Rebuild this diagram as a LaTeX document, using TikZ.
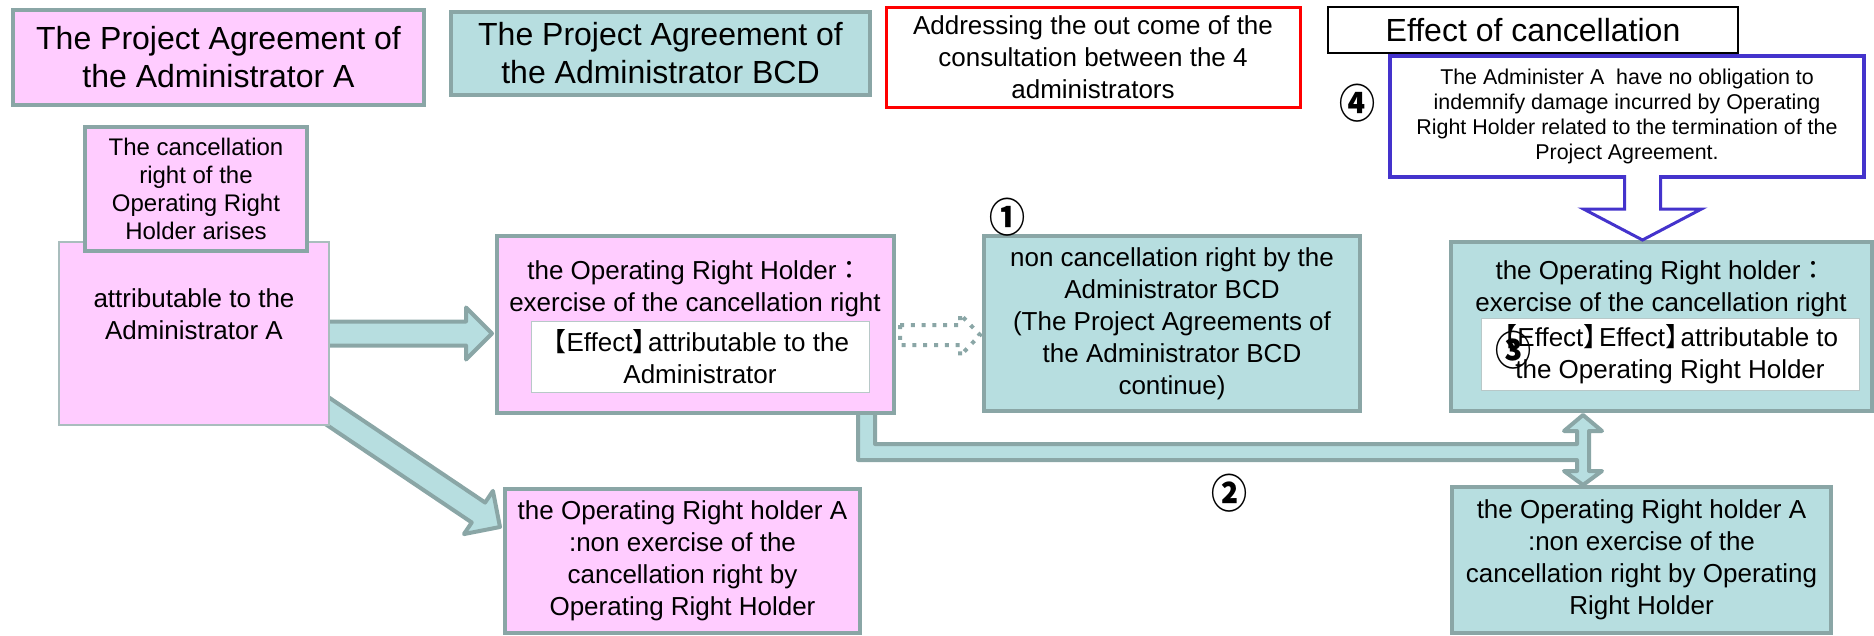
\documentclass[tikz,border=0pt]{standalone}
\usepackage{fontspec}
\setmainfont{Liberation Sans}
\newfontfamily\cjk{Noto Sans CJK JP}
\usetikzlibrary{calc}
\definecolor{pinkfill}{HTML}{FFCCFF}
\definecolor{tealfill}{HTML}{B7DEE0}
\definecolor{edgegray}{HTML}{8AA6A6}
\definecolor{paleedge}{HTML}{A9BDBD}
\definecolor{innerline}{HTML}{B8C8C8}
\definecolor{adminblue}{HTML}{4433CC}
\pgfdeclarelayer{back}
\pgfsetlayers{back,main}
\newcommand{\lbr}{{\cjk\kern-0.4em【}}
\newcommand{\rbr}{{\cjk 】\kern-0.4em}}
\newcommand{\cln}{{\cjk ：}}
% points of a block arrow: start, tip, half shaft, half head, head length
\newcommand{\fatpts}[5]{%
  \coordinate (fab) at ($(#2)!#5!(#1)$);
  \coordinate (fa1) at ($(#1)!#3!90:(#2)$);
  \coordinate (fa2) at ($(fab)!#3!90:(#2)$);
  \coordinate (fa3) at ($(fab)!#4!90:(#2)$);
  \coordinate (fa4) at ($(fab)!#4!-90:(#2)$);
  \coordinate (fa5) at ($(fab)!#3!-90:(#2)$);
  \coordinate (fa6) at ($(#1)!#3!-90:(#2)$);
}
\newcommand{\fatarrow}[6][]{%
  \fatpts{#2}{#3}{#4}{#5}{#6}
  \draw[#1] (fa1) -- (fa2) -- (fa3) -- (#3) -- (fa4) -- (fa5) -- (fa6) -- cycle;
}
\tikzset{
  pinkbox/.style={draw=edgegray, fill=pinkfill, line width=4pt, inner sep=0pt, align=center},
  tealbox/.style={draw=edgegray, fill=tealfill, line width=4pt, inner sep=0pt, align=center},
  whitebox/.style={draw=innerline, fill=white, line width=1pt, inner sep=0pt, align=center},
  headtext/.style={font=\fontsize{32}{38}\selectfont},
  bodytext/.style={font=\fontsize{26}{32}\selectfont},
  fatlink/.style={draw=edgegray, fill=tealfill, line width=4pt, line join=round},
  dotlink/.style={draw=edgegray, line width=4pt, dash pattern=on 4pt off 6.8pt},
  numlabel/.style={inner sep=0pt, yscale=1.12, font=\cjk\bfseries\fontsize{36}{36}\selectfont},
}
\begin{document}
\begin{tikzpicture}[x=1pt, y=-1pt]
\useasboundingbox (0,0) rectangle (1874,635);
% top row
\node[pinkbox, headtext, minimum width=411pt, minimum height=95pt] (hdrA) at (218.5,57.5) {The Project Agreement of\\the Administrator A};
\node[tealbox, headtext, minimum width=419pt, minimum height=83pt] (hdrB) at (660.5,53.5) {The Project Agreement of\\the Administrator BCD};
\node[draw=red, line width=3pt, fill=white, inner sep=0pt, align=center, bodytext, minimum width=414pt, minimum height=100pt] (consult) at (1093,57) {Addressing the out come of the\\consultation between the 4\\administrators};
\node[draw=black, line width=1.5pt, headtext, inner sep=0pt, minimum width=410pt, minimum height=46pt] (effect) at (1533,30) {Effect of cancellation};
\node[draw=adminblue, line width=4pt, fill=white, inner sep=0pt, align=center, font=\fontsize{21.4}{25}\selectfont, minimum width=474pt, minimum height=121pt] (noindem) at (1627,116.5) {The Administer A\ \ have no obligation to\\indemnify damage incurred by Operating\\Right Holder related to the termination of the\\Project Agreement.};

% left column
\node[draw=paleedge, fill=pinkfill, line width=1.2pt, minimum width=270pt, minimum height=183pt] (attr) at (194,333.5) {};
\node[bodytext, align=center] (attrT) at (194,314) {attributable to the\\Administrator A};
\node[pinkbox, font=\fontsize{24}{28}\selectfont, minimum width=222pt, minimum height=124pt] (arises) at (196,189) {The cancellation\\right of the\\Operating Right\\Holder arises};

% middle
\node[pinkbox, minimum width=397pt, minimum height=177pt] (exer) at (695.5,324.5) {};
\node[bodytext, align=center] (exerT) at (695,289) {the Operating Right Holder\cln\\exercise of the cancellation right};
\node[whitebox, bodytext, minimum width=338pt, minimum height=71pt] (exerE) at (700,356.5) {\lbr Effect\rbr attributable to the\\Administrator};
\node[pinkbox, bodytext, minimum width=355pt, minimum height=144pt] (optA) at (682.5,561) {the Operating Right holder A\\:non exercise of the\\cancellation right by\\Operating Right Holder};
\node[tealbox, bodytext, minimum width=376pt, minimum height=175pt] (noncan) at (1172,323.5) {non cancellation right by the\\Administrator BCD\\(The Project Agreements of\\the Administrator BCD\\continue)};

% right column
\node[tealbox, minimum width=421pt, minimum height=169pt] (box3) at (1661.5,326.5) {};
\node[bodytext, align=center] (box3T) at (1661,289) {the Operating Right holder\cln\\exercise of the cancellation right};
\node[whitebox, bodytext, minimum width=378pt, minimum height=72pt] (box3E) at (1670,354) {\lbr Effect\rbr Effect\rbr attributable to\\the Operating Right Holder};
\node[tealbox, bodytext, minimum width=379pt, minimum height=146pt] (optB) at (1641.5,560) {the Operating Right holder A\\:non exercise of the\\cancellation right by Operating\\Right Holder};

% circled numbers
\node[numlabel] (n1) at (1007,217) {①};
\node[numlabel] (n2) at (1229,493) {②};
\node[numlabel] (n3) at (1513,350) {③};
\node[numlabel] (n4) at (1357,103) {④};

% block arrows
\begin{pgfonlayer}{back}
  \coordinate (s1) at ($(attr.east)+(-5,0)$);
  \coordinate (t1) at ($(exer.west |- attr.east)+(-3,0)$);
  \fatarrow[fatlink]{s1}{t1}{12pt}{26pt}{26pt}
  \coordinate (s2) at ($(attr.south east)+(-25,-30)$);
  \coordinate (t2) at ($(optA.west)+(-3,-34)$);
  \fatarrow[fatlink]{s2}{t2}{12pt}{26pt}{26pt}
  \coordinate (el) at ($(exer.south east)+(-29,-2)$);
  \coordinate (up) at ($(box3.south west)+(134,0)$);
  \coordinate (dn) at (up |- optB.north);
  \draw[fatlink] ($(el)+(-9,-4)$) -- ($(el)+(-9,47)$) -- ($(up)+(-6,47)$)
    -- ($(dn)+(-6,-14)$) -- ($(dn)+(-19,-14)$) -- (dn) -- ($(dn)+(19,-14)$) -- ($(dn)+(6,-14)$)
    -- ($(up)+(6,18)$) -- ($(up)+(19,18)$) -- ($(up)+(0,2)$) -- ($(up)+(-19,18)$) -- ($(up)+(-6,18)$)
    -- ($(up)+(-6,31)$) -- ($(el)+(8,31)$) -- ($(el)+(8,-4)$) -- cycle;
\end{pgfonlayer}
\coordinate (s3) at ($(exer.east)+(4,10.5)$);
\coordinate (t3) at ($(noncan.west |- s3)+(-2,0)$);
\fatarrow[dotlink]{s3}{t3}{10pt}{21pt}{20pt}
\coordinate (s4) at ($(noindem.south)+(15.5,-4)$);
\coordinate (t4) at (s4 |- box3.north);
\fatpts{s4}{t4}{18pt}{59pt}{31pt}
\fill[white] (fa1) -- (fa2) -- (fa3) -- (t4) -- (fa4) -- (fa5) -- (fa6) -- cycle;
\draw[adminblue, line width=3pt] (fa1) -- (fa2) -- (fa3) -- (t4) -- (fa4) -- (fa5) -- (fa6);
\end{tikzpicture}
\end{document}
